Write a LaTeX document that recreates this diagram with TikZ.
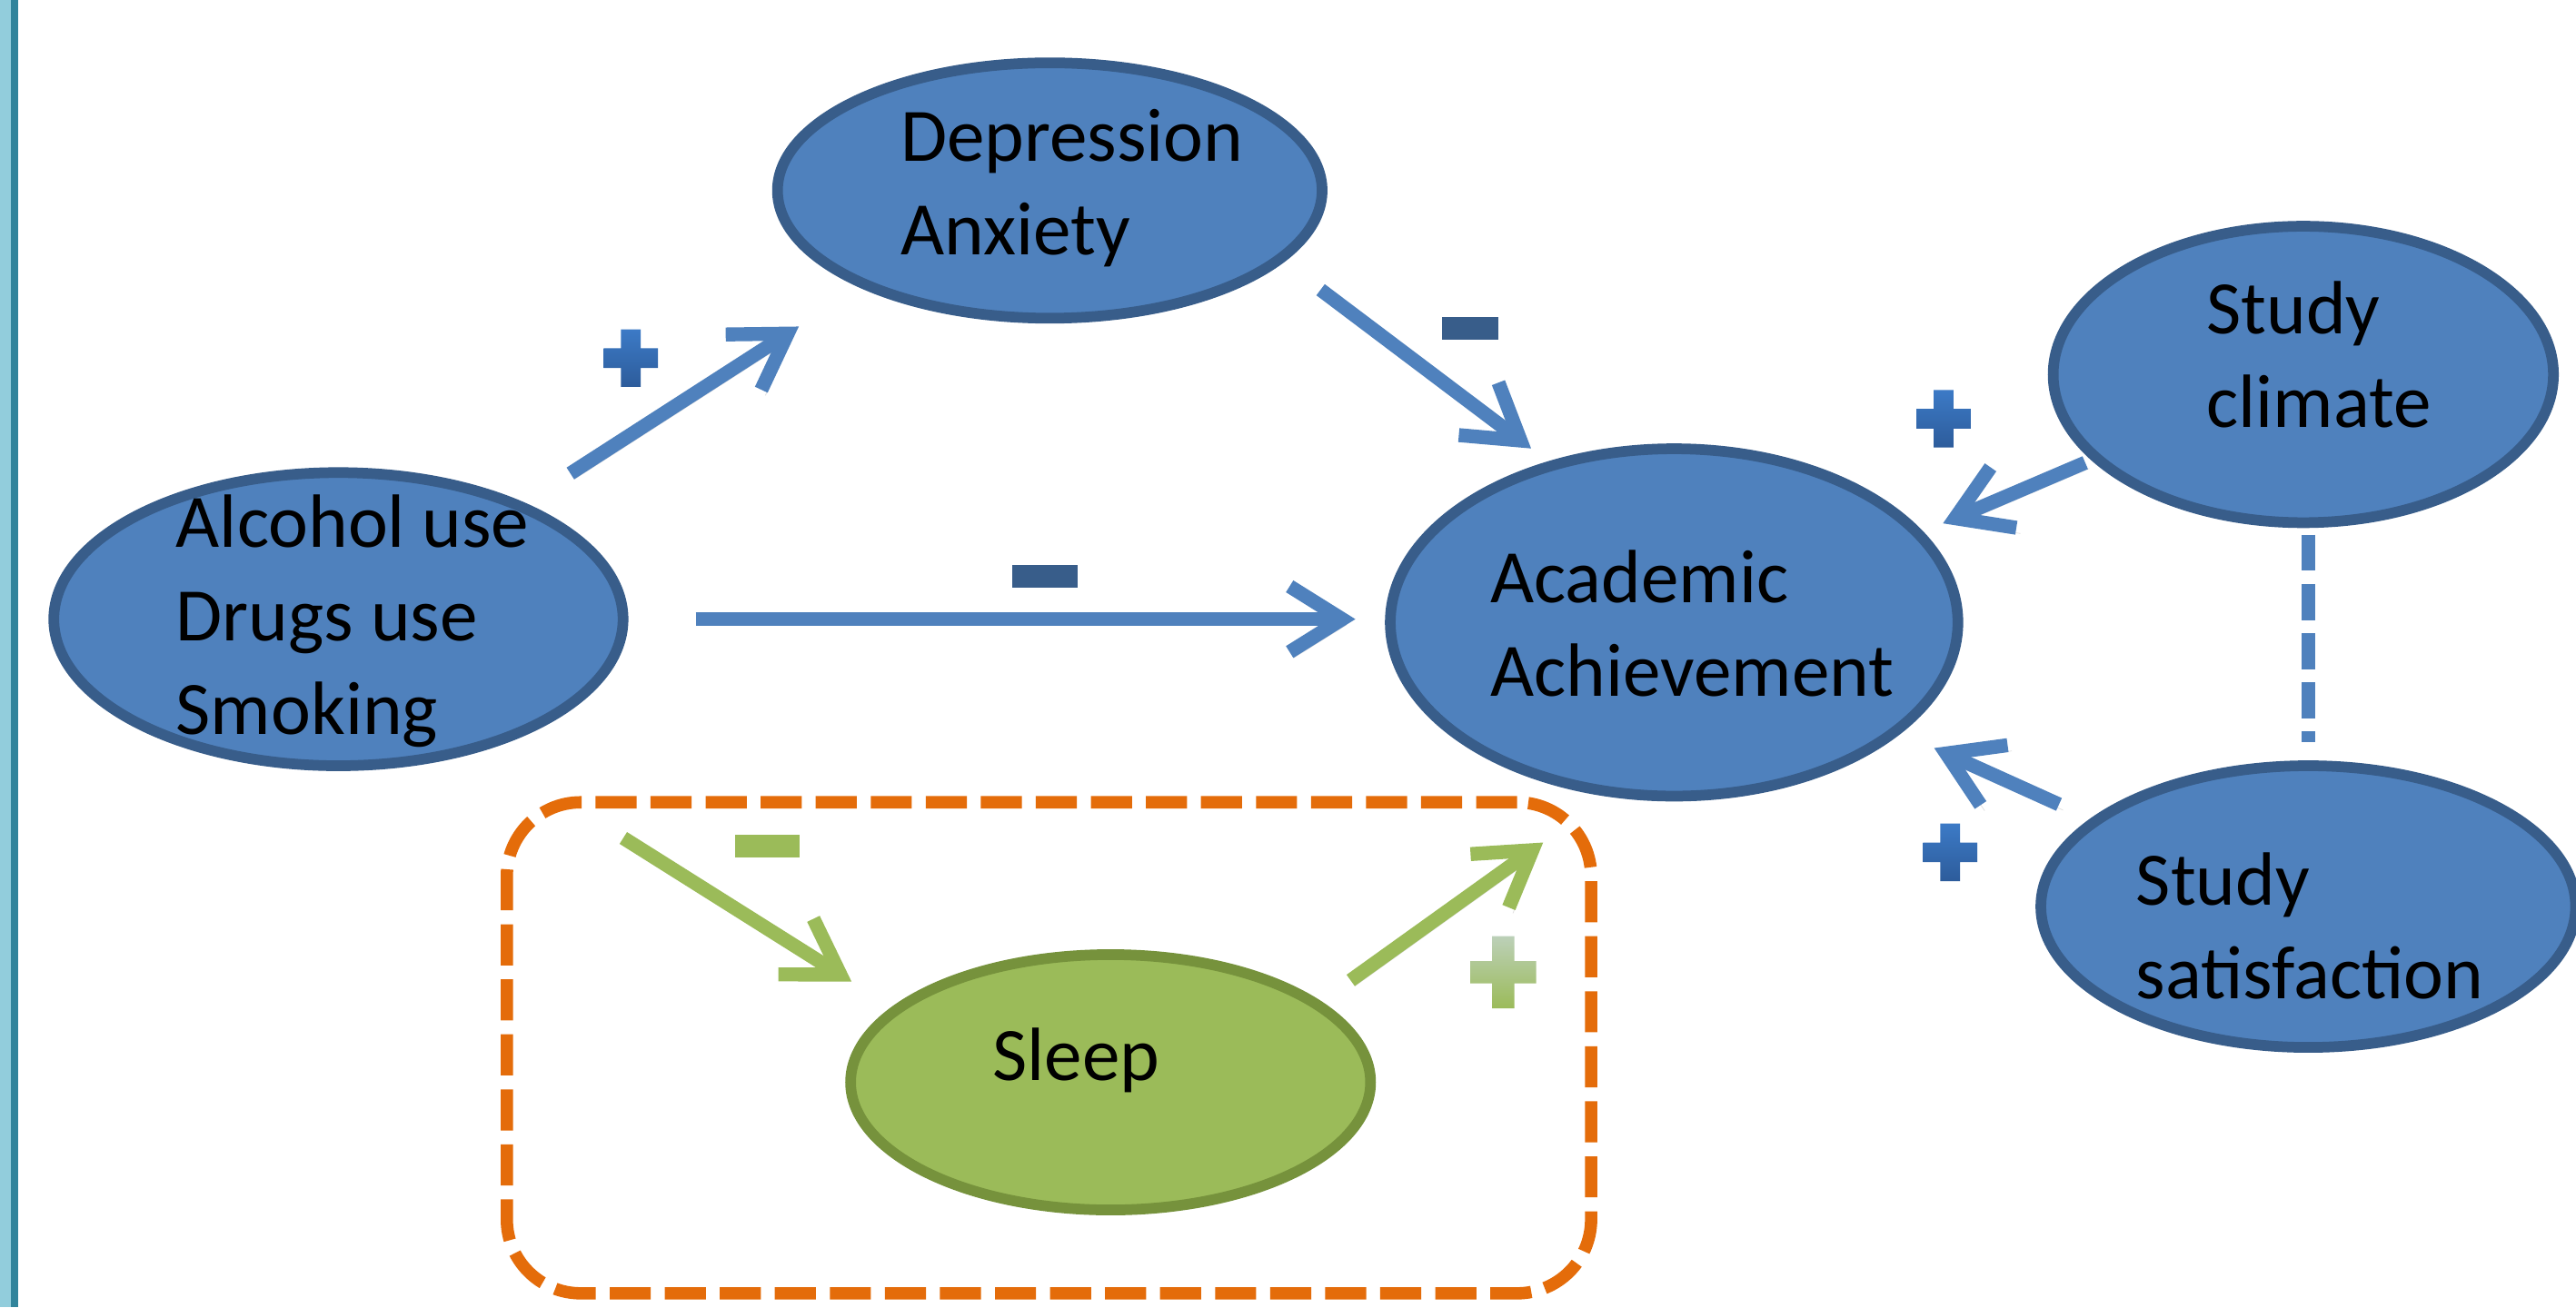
\documentclass[tikz,border=0pt]{standalone}
\usepackage{fontspec}
\setmainfont{Carlito}
\usetikzlibrary{arrows.meta,shapes.geometric}
\definecolor{ppblue}{HTML}{4F81BD}
\definecolor{ppedge}{HTML}{385D8A}
\definecolor{ppgreen}{HTML}{9BBB59}
\definecolor{ppgedge}{HTML}{76923C}
\definecolor{pporange}{HTML}{E46C0A}
\definecolor{ppplus}{HTML}{3C7AC6}
\definecolor{ppplusdk}{HTML}{2D5C9B}
\definecolor{pppale}{HTML}{BCD0B8}
\definecolor{ppsky}{HTML}{92CDDC}
\definecolor{ppteal}{HTML}{31849B}
\tikzset{
  oval/.style={ellipse, draw=ppedge, fill=ppblue, line width=6.5pt, inner sep=0pt, outer sep=3.25pt},
  goval/.style={oval, draw=ppgedge, fill=ppgreen},
  frame/.style={draw=pporange, line width=7.5pt, dash pattern=on 25pt off 8.5pt, rounded corners=45pt, inner sep=0pt},
  lbl/.style={anchor=base west, align=left, inner sep=0pt, font=\fontsize{46}{57}\selectfont},
  barr/.style={-{Straight Barb[length=32pt,width=40pt,line width=0pt 1]}, line width=8.5pt, draw=ppblue,
    preaction={draw=black!12, transform canvas={shift={(2.5pt,-3.5pt)}}}},
  garr/.style={barr, draw=ppgreen},
  dline/.style={draw=ppblue, line width=8pt, dash pattern=on 22pt off 8pt},
}

\begin{document}
\begin{tikzpicture}[x=1pt, y=-1pt]
  \fill[white] (0,0) rectangle (1568,796);
  \useasboundingbox (0,0) rectangle (1568,796);
  \fill[ppsky] (0,0) rectangle (6.6,796);
  \fill[ppteal] (6.6,0) rectangle (11.1,796);

  % the factors
  \node[oval, minimum width=331.5pt, minimum height=155.5pt] (dep) at (639,116) {};
  \node[oval, minimum width=346.5pt, minimum height=178.5pt] (alc) at (206,377) {};
  \node[oval, minimum width=345.5pt, minimum height=211.5pt] (acad) at (1019,379) {};
  \node[oval, minimum width=304.5pt, minimum height=180.5pt] (clim) at (1402,228) {};
  \node[oval, minimum width=325.5pt, minimum height=171.5pt] (sat) at (1405,552) {};
  \node[goval, minimum width=316.5pt, minimum height=155.5pt] (sleep) at (676,659) {};
  \node[frame, minimum width=660pt, minimum height=299pt] (grp) at (638.5,638) {};

  \node[lbl] (dep-t) at (548,155) {Depression\\Anxiety};
  \node[lbl] (alc-t) at (107,447) {Alcohol use\\Drugs use\\Smoking};
  \node[lbl] (acad-t) at (907,424) {Academic\\Achievement};
  \node[lbl] (clim-t) at (1343,260) {Study\\climate};
  \node[lbl] (sat-t) at (1300,608) {Study\\satisfaction};
  \node[lbl] (sleep-t) at (604,658) {Sleep};

  % links
  \draw[barr, shorten <=33pt, shorten >=44pt] (alc.32.6) -- (dep.207.2);
  \draw[barr, shorten <=28pt, shorten >=13pt] (dep.343.9) -- (acad.128);
  \draw[barr, shorten <=41pt, shorten >=18pt] (alc.east) -- (alc.east -| acad.west);
  \draw[barr, shorten <=4pt, shorten >=13pt] (clim.202.9) -- (acad.20.5);
  \draw[barr, shorten <=21pt, shorten >=22pt] (sat.158.7) -- (acad.334.5);
  \draw[garr, shorten <=100pt, shorten >=29pt] (alc.318.6) -- (sleep.161.2);
  \draw[garr, shorten <=22pt, shorten >=48pt] (sleep.21) -- (acad.249.4);
  \draw[dline, shorten <=4pt, shorten >=11pt] (sat.north |- clim.south) -- (sat.north);

  % signs
  \foreach \x/\y/\w/\h/\t/\c/\d in {384/218/33/35/12/ppplus/ppplusdk, 1183/255/33/35/12/ppplus/ppplusdk,
      1187/519/33/35/12/ppplus/ppplusdk, 915/592/40/44/13.5/pppale/ppgreen}
    \shade[top color=\c, bottom color=\d] (\x-\w/2,\y-\t/2) rectangle (\x+\w/2,\y+\t/2)
      (\x-\t/2,\y-\h/2) rectangle (\x+\t/2,\y+\h/2);
  \foreach \x/\y/\w/\c in {895/200/34/ppedge, 636/351/40/ppedge, 467/515/39/ppgreen}
    \fill[\c] (\x-\w/2,\y-7) rectangle (\x+\w/2,\y+7);
\end{tikzpicture}
\end{document}
